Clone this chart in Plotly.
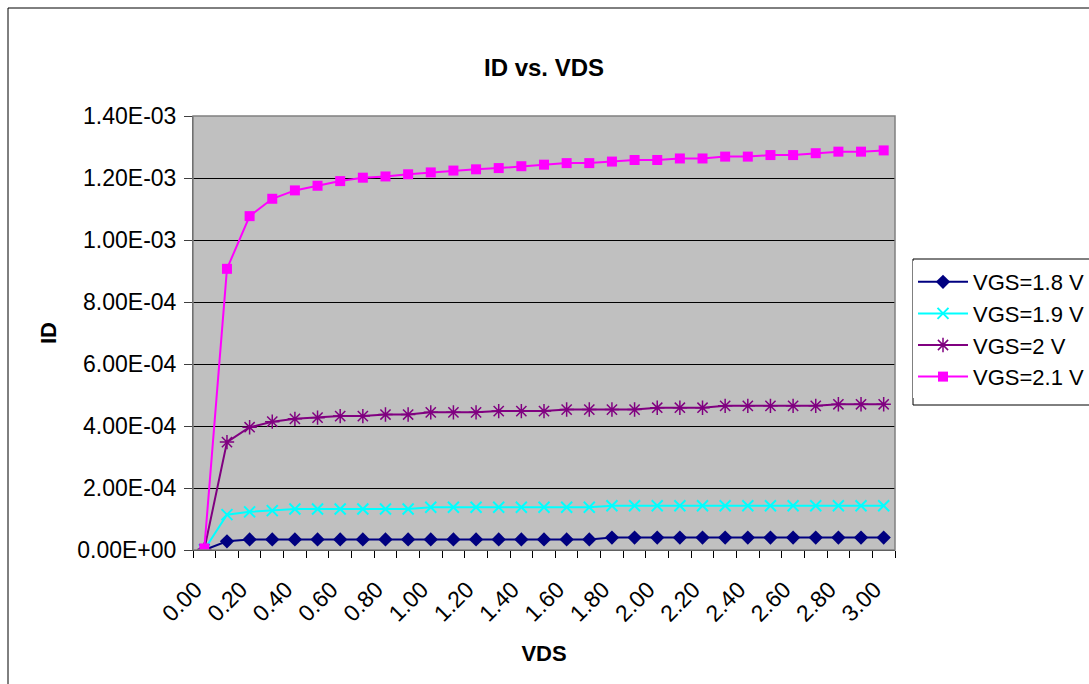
import plotly.graph_objects as go

# ---- data ----
VDS = [0.0, 0.1, 0.2, 0.3, 0.4, 0.5, 0.6, 0.7, 0.8, 0.9, 1.0,
       1.1, 1.2, 1.3, 1.4, 1.5, 1.6, 1.7, 1.8, 1.9, 2.0,
       2.1, 2.2, 2.3, 2.4, 2.5, 2.6, 2.7, 2.8, 2.9, 3.0]

ID_VGS_1_8 = [0.0, 2.8e-5, 3.4e-5, 3.4e-5, 3.4e-5, 3.4e-5, 3.4e-5, 3.4e-5, 3.4e-5, 3.4e-5, 3.4e-5,
              3.4e-5, 3.4e-5, 3.4e-5, 3.4e-5, 3.4e-5, 3.4e-5, 3.4e-5, 4.0e-5, 4.0e-5, 4.0e-5,
              4.0e-5, 4.0e-5, 4.0e-5, 4.0e-5, 4.0e-5, 4.0e-5, 4.0e-5, 4.0e-5, 4.0e-5, 4.0e-5]
ID_VGS_1_9 = [1.0e-6, 1.14e-4, 1.23e-4, 1.27e-4, 1.32e-4, 1.32e-4, 1.32e-4, 1.32e-4, 1.32e-4, 1.32e-4, 1.38e-4,
              1.38e-4, 1.38e-4, 1.38e-4, 1.38e-4, 1.38e-4, 1.38e-4, 1.38e-4, 1.43e-4, 1.43e-4, 1.43e-4,
              1.43e-4, 1.43e-4, 1.43e-4, 1.43e-4, 1.43e-4, 1.43e-4, 1.43e-4, 1.43e-4, 1.43e-4, 1.43e-4]
ID_VGS_2_0 = [2.0e-6, 3.48e-4, 3.96e-4, 4.14e-4, 4.23e-4, 4.27e-4, 4.32e-4, 4.32e-4, 4.37e-4, 4.37e-4, 4.44e-4,
              4.44e-4, 4.44e-4, 4.48e-4, 4.48e-4, 4.48e-4, 4.53e-4, 4.53e-4, 4.53e-4, 4.53e-4, 4.59e-4,
              4.59e-4, 4.59e-4, 4.65e-4, 4.65e-4, 4.65e-4, 4.65e-4, 4.65e-4, 4.70e-4, 4.70e-4, 4.70e-4]
ID_VGS_2_1 = [5.0e-6, 9.07e-4, 1.077e-3, 1.133e-3, 1.160e-3, 1.175e-3, 1.190e-3, 1.201e-3, 1.205e-3, 1.212e-3, 1.218e-3,
              1.224e-3, 1.228e-3, 1.232e-3, 1.238e-3, 1.243e-3, 1.248e-3, 1.248e-3, 1.253e-3, 1.258e-3, 1.258e-3,
              1.263e-3, 1.263e-3, 1.269e-3, 1.269e-3, 1.274e-3, 1.274e-3, 1.280e-3, 1.285e-3, 1.285e-3, 1.289e-3]

SERIES_NAMES = ["VGS=1.8 V", "VGS=1.9 V", "VGS=2 V", "VGS=2.1 V"]
X_TICKS = [0.0, 0.2, 0.4, 0.6, 0.8, 1.0, 1.2, 1.4, 1.6, 1.8, 2.0, 2.2, 2.4, 2.6, 2.8, 3.0]
Y_TICKS = [0.0, 2e-4, 4e-4, 6e-4, 8e-4, 1.0e-3, 1.2e-3, 1.4e-3]

# ---- styles ----
FONT = "Arial, Liberation Sans, sans-serif"
styles = [
    dict(color="#000080", symbol="diamond", size=11, lw=0),
    dict(color="#00FFFF", symbol="x-thin", size=11, lw=2),
    dict(color="#800080", symbol="asterisk", size=12, lw=1.5),
    dict(color="#FF00FF", symbol="square", size=10, lw=0),
]

fig = go.Figure()
for name, ys, st in zip(SERIES_NAMES, [ID_VGS_1_8, ID_VGS_1_9, ID_VGS_2_0, ID_VGS_2_1], styles):
    fig.add_trace(go.Scatter(
        x=VDS, y=ys, name=name, mode="lines+markers", legendgroup=name,
        line=dict(color=st["color"], width=2),
        marker=dict(symbol=st["symbol"], size=st["size"], color=st["color"],
                    line=dict(color=st["color"], width=st["lw"])),
    ))

L, R, T, B = 193, 194, 116, 134
W, H = 1089, 684
pw, ph = W - L - R, H - T - B

def px_x(p):
    return (p - L) / pw

def px_y(p):
    return (H - B - p) / ph

fig.update_layout(
    width=W, height=H,
    margin=dict(l=L, r=R, t=T, b=B, autoexpand=False),
    paper_bgcolor="white", plot_bgcolor="#C0C0C0",
    font=dict(family=FONT, size=22, color="black"),
    title=dict(text="<b>ID vs. VDS</b>", x=0.5, xref="paper", y=1 - 68 / H, yref="container",
               xanchor="center", yanchor="middle", font=dict(size=24)),
    showlegend=True,
    legend=dict(x=px_x(913), y=px_y(261), xanchor="left", yanchor="top",
                bgcolor="white", borderwidth=0,
                font=dict(size=22), tracegroupgap=1, traceorder="normal",
                itemwidth=50),
    xaxis=dict(
        range=[-0.05, 3.05], showgrid=False, zeroline=False,
        tickmode="array", tickvals=X_TICKS, ticktext=[f"{v:.2f}" for v in X_TICKS],
        tickangle=-45, ticks="", showline=True, linecolor="black", linewidth=1,
        tickfont=dict(size=23), ticklabelstandoff=16, ticklabelshift=-9,
        minor=dict(tickmode="linear", tick0=-0.05, dtick=0.1, ticks="outside",
                   ticklen=7, tickcolor="black", tickwidth=1, showgrid=False),
        title=dict(text="<b>VDS</b>", font=dict(size=22), standoff=20),
    ),
    yaxis=dict(
        range=[0, 1.4e-3], showgrid=True, gridcolor="black", gridwidth=1, zeroline=False,
        tickmode="array", tickvals=Y_TICKS, ticktext=[f"{v:.2E}" for v in Y_TICKS],
        ticks="outside", ticklen=8, tickcolor="#404040", showline=True,
        linecolor="#404040", linewidth=1, tickfont=dict(size=23), ticklabelstandoff=3,
        title=dict(text="<b>ID</b>", font=dict(size=22), standoff=14),
    ),
    shapes=[
        dict(type="rect", xref="paper", yref="paper", x0=0, x1=1, y0=0, y1=1,
             line=dict(color="#808080", width=1.5), layer="above"),
        dict(type="rect", xref="paper", yref="paper", x0=px_x(8), x1=px_x(1200),
             y0=px_y(800), y1=px_y(8), line=dict(color="black", width=1), layer="above"),
        dict(type="rect", xref="paper", yref="paper", x0=px_x(913), x1=px_x(1200),
             y0=px_y(405), y1=px_y(259), line=dict(color="black", width=1), layer="above"),
    ],
)

fig.write_html("out.html")
